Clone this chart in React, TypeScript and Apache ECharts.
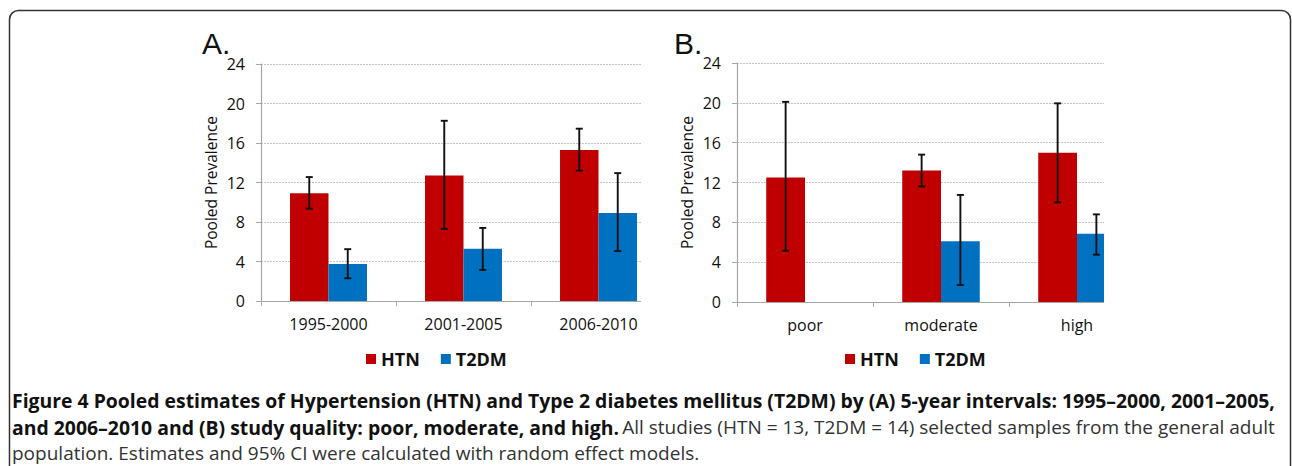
import React, { useEffect, useRef } from "react";
import * as echarts from "echarts";

const categoriesA = ["1995-2000", "2001-2005", "2006-2010"];
const htnA = [10.9, 12.7, 15.3];
const t2dmA = [3.75, 5.3, 8.9];
const htnCiA = [[9.35, 12.55], [7.3, 18.25], [13.2, 17.45]];
const t2dmCiA = [[2.3, 5.25], [3.15, 7.4], [5.05, 12.95]];

const categoriesB = ["poor", "moderate", "high"];
const htnB = [12.5, 13.2, 15.0];
const t2dmB: (number | string)[] = ["-", 6.1, 6.85];
const htnCiB = [[5.15, 20.1], [11.6, 14.8], [10.0, 19.95]];
const t2dmCiB: (number[] | null)[] = [null, [1.7, 10.75], [4.75, 8.8]];

const yTicks = [0, 4, 8, 12, 16, 20, 24];

const RED = "#C00000";
const BLUE = "#0070C0";
const FONT = "'Open Sans', sans-serif";
const GAP = 0.43;

function ciData(ci: (number[] | null)[]) {
  const out: number[][] = [];
  ci.forEach((c, i) => {
    if (c) out.push([i, c[0], c[1]]);
  });
  return out;
}

function errRender(sign: number) {
  return (params: any, api: any) => {
    const idx = api.value(0);
    const lo = api.coord([idx, api.value(1)]);
    const hi = api.coord([idx, api.value(2)]);
    const band = api.size([1, 0])[0];
    const bw = (band * (1 - GAP)) / 2;
    const x = lo[0] + (sign * bw) / 2;
    const st = { stroke: "#111", lineWidth: 1.9 };
    const cap = 3.5;
    return {
      type: "group",
      children: [
        { type: "line", shape: { x1: x, y1: lo[1], x2: x, y2: hi[1] }, style: st },
        { type: "line", shape: { x1: x - cap, y1: lo[1], x2: x + cap, y2: lo[1] }, style: st },
        { type: "line", shape: { x1: x - cap, y1: hi[1], x2: x + cap, y2: hi[1] }, style: st },
      ],
    };
  };
}

function xAxisOf(grid: number, cats: string[]) {
  return {
    type: "category",
    gridIndex: grid,
    data: cats,
    boundaryGap: true,
    axisLine: { show: true, lineStyle: { color: "#a6a6a6", width: 1.2 } },
    axisTick: { show: true, alignWithLabel: false, length: 5, lineStyle: { color: "#a6a6a6" } },
    axisLabel: { color: "#111", fontSize: 16, fontFamily: FONT, margin: 15 },
  };
}

function yAxisOf(grid: number) {
  return {
    type: "value",
    gridIndex: grid,
    min: yTicks[0],
    max: yTicks[yTicks.length - 1],
    interval: yTicks[1] - yTicks[0],
    name: "Pooled Prevalence",
    nameLocation: "middle",
    nameGap: 42,
    nameTextStyle: { color: "#111", fontSize: 15.5, fontFamily: FONT },
    axisLine: { show: true, lineStyle: { color: "#a6a6a6", width: 1.2 } },
    axisTick: { show: true, length: 5, lineStyle: { color: "#a6a6a6" } },
    axisLabel: { color: "#111", fontSize: 16, fontFamily: FONT, margin: 16 },
    splitLine: { show: true, lineStyle: { color: "#c4c4c4", type: [2, 1], width: 1 } },
  };
}

function bar(name: string, grid: number, data: any[], color: string) {
  return {
    name,
    type: "bar",
    xAxisIndex: grid,
    yAxisIndex: grid,
    data,
    barGap: "0%",
    barCategoryGap: GAP * 100 + "%",
    itemStyle: { color },
    z: 2,
  };
}

function err(grid: number, data: number[][], sign: number) {
  return {
    type: "custom",
    xAxisIndex: grid,
    yAxisIndex: grid,
    data,
    encode: { x: 0, y: [1, 2] },
    renderItem: errRender(sign),
    z: 5,
    silent: true,
  };
}

function legendAt(left: number) {
  return {
    left,
    top: 350,
    padding: 0,
    orient: "horizontal",
    data: ["HTN", "T2DM"],
    icon: "rect",
    itemWidth: 10,
    itemHeight: 10,
    itemGap: 21,
    textStyle: { color: "#111", fontSize: 18, fontWeight: "bold", fontFamily: FONT, padding: [0, 0, 0, 0] },
  };
}

export default function App() {
  const ref = useRef<HTMLDivElement>(null);
  useEffect(() => {
    if (!ref.current) return;
    const chart = echarts.init(ref.current, null, { renderer: "svg" });
    chart.setOption({
      animation: false,
      backgroundColor: "#ffffff",
      grid: [
        { left: 261, top: 64, width: 405, height: 237 },
        { left: 737, top: 63, width: 408, height: 239 },
      ],
      xAxis: [xAxisOf(0, categoriesA), xAxisOf(1, categoriesB)],
      yAxis: [yAxisOf(0), yAxisOf(1)],
      legend: [legendAt(366), legendAt(845)],
      series: [
        bar("HTN", 0, htnA, RED),
        bar("T2DM", 0, t2dmA, BLUE),
        bar("HTN", 1, htnB, RED),
        bar("T2DM", 1, t2dmB, BLUE),
        err(0, ciData(htnCiA), -1),
        err(0, ciData(t2dmCiA), 1),
        err(1, ciData(htnCiB), -1),
        err(1, ciData(t2dmCiB), 1),
      ],
      graphic: [
        { type: "rect", z: 100, shape: { x: 641, y: 50, width: 27, height: 265 }, style: { fill: "#fff" } },
        { type: "rect", z: 100, shape: { x: 1104, y: 50, width: 80, height: 265 }, style: { fill: "#fff" } },
        {
          type: "rect",
          z: 101,
          shape: { x: 9.5, y: 10.5, width: 1281, height: 520, r: 9 },
          style: { fill: "none", stroke: "#333", lineWidth: 1.5 },
        },
        {
          type: "text",
          z: 101,
          x: 202,
          y: 43,
          style: { text: "A.", fontSize: 30, fontFamily: "'Liberation Sans', Arial, sans-serif", fill: "#111", verticalAlign: "middle" },
        },
        {
          type: "text",
          z: 101,
          x: 674,
          y: 43,
          style: { text: "B.", fontSize: 30, fontFamily: "'Liberation Sans', Arial, sans-serif", fill: "#111", verticalAlign: "middle" },
        },
        {
          type: "text",
          z: 101,
          x: 12,
          y: 400,
          style: {
            text: "Figure 4 Pooled estimates of Hypertension (HTN) and Type 2 diabetes mellitus (T2DM) by (A) 5-year intervals: 1995–2000, 2001–2005,",
            fontSize: 19.4,
            fontWeight: "bold",
            fontFamily: FONT,
            fill: "#111",
            verticalAlign: "middle",
          },
        },
        {
          type: "text",
          z: 101,
          x: 12,
          y: 427,
          style: {
            text: "{b|and 2006–2010 and (B) study quality: poor, moderate, and high.} {r|All studies (HTN = 13, T2DM = 14) selected samples from the general adult}",
            verticalAlign: "middle",
            rich: {
              b: { fontSize: 19.4, fontWeight: "bold", fontFamily: FONT, fill: "#111" },
              r: { fontSize: 19, fontFamily: FONT, fill: "#333" },
            },
          },
        },
        {
          type: "text",
          z: 101,
          x: 12,
          y: 453,
          style: {
            text: "population. Estimates and 95% CI were calculated with random effect models.",
            fontSize: 19,
            fontFamily: FONT,
            fill: "#333",
            verticalAlign: "middle",
          },
        },
      ],
    });
    return () => chart.dispose();
  }, []);
  return <div ref={ref} style={{ position: "fixed", left: 0, top: 0, width: 1292, height: 466 }} />;
}
